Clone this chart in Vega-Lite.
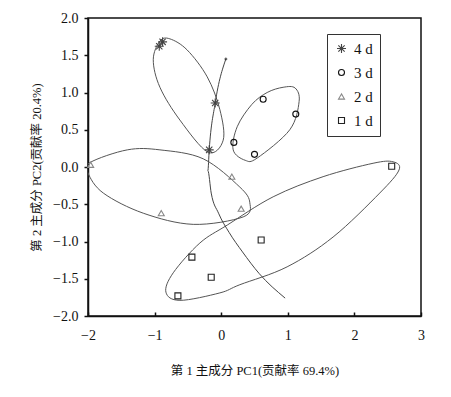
{
  "$schema": "https://vega.github.io/schema/vega-lite/v6.json",
  "autosize": {"type": "none"},
  "width": 333,
  "height": 298,
  "padding": {"left": 88, "top": 18, "right": 30, "bottom": 81},
  "background": "white",
  "config": {
    "view": {"stroke": "#111", "strokeWidth": 1.5},
    "axis": {
      "grid": false,
      "domainColor": "#111",
      "domainWidth": 1.5,
      "tickColor": "#111",
      "tickWidth": 1.5,
      "labelFont": "Liberation Serif",
      "labelFontSize": 14,
      "labelColor": "#111",
      "labelOverlap": false,
      "labelFlush": false,
      "titleFont": "Liberation Serif, Noto Sans CJK SC",
      "titleFontSize": 12.5,
      "titleFontWeight": "normal",
      "titleColor": "#111"
    },
    "legend": {
      "labelFont": "Liberation Serif",
      "labelFontSize": 15,
      "labelColor": "#111"
    }
  },
  "datasets": {
    "pts": [
      {"x": -0.93, "y": 1.62, "day": "4 d"},
      {"x": -0.88, "y": 1.68, "day": "4 d"},
      {"x": -0.09, "y": 0.86, "day": "4 d"},
      {"x": -0.18, "y": 0.23, "day": "4 d"},
      {"x": 0.19, "y": 0.33, "day": "3 d"},
      {"x": 0.5, "y": 0.17, "day": "3 d"},
      {"x": 0.63, "y": 0.91, "day": "3 d"},
      {"x": 1.12, "y": 0.71, "day": "3 d"},
      {"x": -1.96, "y": 0.03, "day": "2 d"},
      {"x": -0.9, "y": -0.62, "day": "2 d"},
      {"x": 0.16, "y": -0.13, "day": "2 d"},
      {"x": 0.3, "y": -0.56, "day": "2 d"},
      {"x": -0.44, "y": -1.21, "day": "1 d"},
      {"x": -0.15, "y": -1.48, "day": "1 d"},
      {"x": -0.65, "y": -1.73, "day": "1 d"},
      {"x": 0.6, "y": -0.98, "day": "1 d"},
      {"x": 2.56, "y": 0.01, "day": "1 d"}
    ],
    "ell": [
      {"g": "a", "o": 1, "x": -0.77, "y": 1.72},
      {"g": "a", "o": 2, "x": -0.51, "y": 1.57},
      {"g": "a", "o": 3, "x": -0.21, "y": 1.21},
      {"g": "a", "o": 4, "x": -0.02, "y": 0.77},
      {"g": "a", "o": 5, "x": 0.03, "y": 0.36},
      {"g": "a", "o": 6, "x": -0.2, "y": 0.2},
      {"g": "a", "o": 7, "x": -0.62, "y": 0.63},
      {"g": "a", "o": 8, "x": -0.92, "y": 1.07},
      {"g": "a", "o": 9, "x": -1.02, "y": 1.44},
      {"g": "a", "o": 10, "x": -0.92, "y": 1.69},

      {"g": "b", "o": 1, "x": 0.93, "y": 1.07},
      {"g": "b", "o": 2, "x": 1.11, "y": 1.06},
      {"g": "b", "o": 3, "x": 1.17, "y": 0.88},
      {"g": "b", "o": 4, "x": 1.03, "y": 0.5},
      {"g": "b", "o": 5, "x": 0.54, "y": 0.12},
      {"g": "b", "o": 6, "x": 0.36, "y": 0.09},
      {"g": "b", "o": 7, "x": 0.18, "y": 0.23},
      {"g": "b", "o": 8, "x": 0.24, "y": 0.54},
      {"g": "b", "o": 9, "x": 0.46, "y": 0.84},
      {"g": "b", "o": 10, "x": 0.69, "y": 1.0},

      {"g": "c", "o": 1, "x": -1.97, "y": 0.06},
      {"g": "c", "o": 2, "x": -1.41, "y": 0.23},
      {"g": "c", "o": 3, "x": -0.92, "y": 0.23},
      {"g": "c", "o": 4, "x": -0.27, "y": 0.11},
      {"g": "c", "o": 5, "x": 0.28, "y": -0.27},
      {"g": "c", "o": 6, "x": 0.43, "y": -0.48},
      {"g": "c", "o": 7, "x": 0.33, "y": -0.67},
      {"g": "c", "o": 8, "x": -0.42, "y": -0.77},
      {"g": "c", "o": 9, "x": -1.17, "y": -0.62},
      {"g": "c", "o": 10, "x": -1.77, "y": -0.35},
      {"g": "c", "o": 11, "x": -2.0, "y": -0.08},

      {"g": "d", "o": 1, "x": 2.28, "y": 0.05},
      {"g": "d", "o": 2, "x": 2.58, "y": 0.07},
      {"g": "d", "o": 3, "x": 2.67, "y": -0.04},
      {"g": "d", "o": 4, "x": 2.38, "y": -0.35},
      {"g": "d", "o": 5, "x": 1.68, "y": -0.94},
      {"g": "d", "o": 6, "x": 0.99, "y": -1.34},
      {"g": "d", "o": 7, "x": 0.28, "y": -1.58},
      {"g": "d", "o": 8, "x": -0.02, "y": -1.69},
      {"g": "d", "o": 9, "x": -0.62, "y": -1.79},
      {"g": "d", "o": 10, "x": -0.83, "y": -1.68},
      {"g": "d", "o": 11, "x": -0.72, "y": -1.42},
      {"g": "d", "o": 12, "x": -0.32, "y": -1.02},
      {"g": "d", "o": 13, "x": 0.09, "y": -0.78},
      {"g": "d", "o": 14, "x": 0.78, "y": -0.4},
      {"g": "d", "o": 15, "x": 1.53, "y": -0.13}
    ],
    "traj": [
      {"o": 1, "x": 0.07, "y": 1.45},
      {"o": 2, "x": -0.09, "y": 0.86},
      {"o": 3, "x": -0.18, "y": 0.23},
      {"o": 4, "x": -0.2, "y": -0.05},
      {"o": 5, "x": -0.15, "y": -0.35},
      {"o": 6, "x": -0.04, "y": -0.62},
      {"o": 7, "x": 0.12, "y": -0.88},
      {"o": 8, "x": 0.32, "y": -1.14},
      {"o": 9, "x": 0.57, "y": -1.43},
      {"o": 10, "x": 0.96, "y": -1.76}
    ]
  },
  "encoding": {
    "x": {"field": "x", "type": "quantitative", "scale": {"domain": [-2, 3], "nice": false, "zero": false},
      "axis": {"values": [-2, -1, 0, 1, 2, 3], "format": "d", "tickSize": -4, "labelPadding": 16, "title": "第 1 主成分 PC1(贡献率 69.4%)", "titlePadding": 22}},
    "y": {"field": "y", "type": "quantitative", "scale": {"domain": [-2, 2], "nice": false, "zero": false},
      "axis": {"values": [-2, -1.5, -1, -0.5, 0, 0.5, 1, 1.5, 2], "format": ".1f", "tickSize": 4, "labelPadding": 6, "title": "第 2 主成分 PC2(贡献率 20.4%)", "titlePadding": 9}}
  },
  "layer": [
    {
      "data": {"name": "ell"},
      "mark": {"type": "line", "interpolate": "cardinal-closed", "color": "#555", "strokeWidth": 1, "clip": true},
      "encoding": {
        "detail": {"field": "g"},
        "order": {"field": "o", "type": "quantitative"}
      }
    },
    {
      "data": {"name": "traj"},
      "mark": {"type": "line", "interpolate": "monotone", "color": "#444", "strokeWidth": 1},
      "encoding": {
        "order": {"field": "o", "type": "quantitative"}
      }
    },
    {
      "data": {"name": "traj"},
      "transform": [{"filter": "datum.o == 1"}],
      "mark": {"type": "point", "filled": true, "color": "#222", "size": 12, "shape": "diamond"},
      "encoding": {}
    },
    {
      "data": {"name": "pts"},
      "mark": {"type": "point", "filled": false, "strokeWidth": 1.1, "size": 36, "opacity": 1},
      "encoding": {
        "shape": {"field": "day", "type": "nominal",
          "scale": {"domain": ["4 d", "3 d", "2 d", "1 d"],
            "range": ["M-1.5,0L1.5,0M0,-1.5L0,1.5M-1.05,-1.05L1.05,1.05M-1.05,1.05L1.05,-1.05", "circle", "triangle-up", "square"]},
          "legend": {"title": null, "orient": "none", "legendX": 239, "legendY": 16,
            "strokeColor": "#333", "padding": 7, "rowPadding": 8, "symbolSize": 36, "symbolStrokeWidth": 1.1, "labelOffset": 5}},
        "color": {"field": "day", "type": "nominal",
          "scale": {"domain": ["4 d", "3 d", "2 d", "1 d"], "range": ["#444", "#111", "#888", "#222"]},
          "legend": {"title": null, "orient": "none", "legendX": 239, "legendY": 16,
            "strokeColor": "#333", "padding": 7, "rowPadding": 8, "symbolSize": 36, "symbolStrokeWidth": 1.1, "labelOffset": 5}}
      }
    }
  ]
}
